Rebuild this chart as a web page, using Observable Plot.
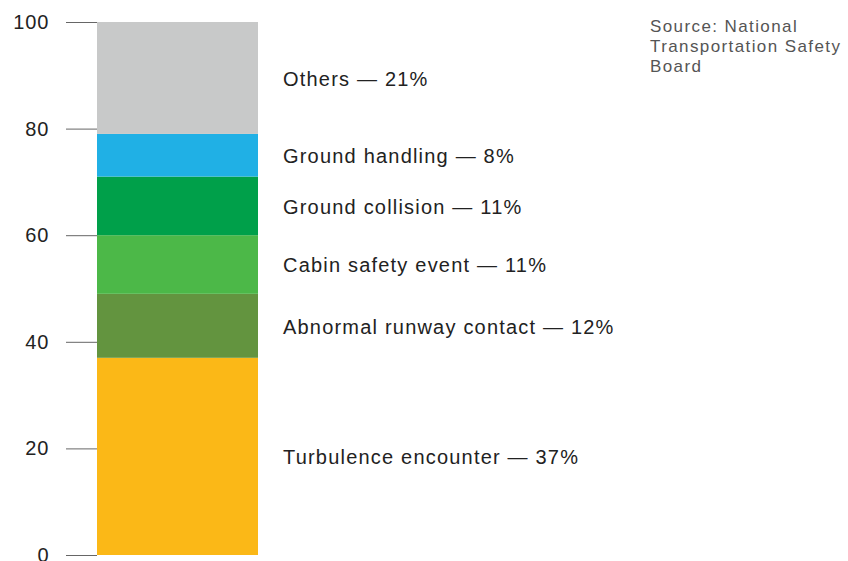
<!DOCTYPE html>
<html>
<head>
<meta charset="utf-8">
<script src="https://cdn.jsdelivr.net/npm/d3@7"></script>
<script src="https://cdn.jsdelivr.net/npm/@observablehq/plot@0.6"></script>
<style>
  html, body { margin: 0; padding: 0; background: #fff; }
  #wrap { position: relative; width: 848px; height: 561px; overflow: hidden; }
  #source { position: absolute; left: 650px; top: 17px; font-family: "Liberation Sans", Arial, sans-serif; font-size: 17px; line-height: 20px; color: #555; letter-spacing: 1.4px; }
  svg text { font-family: "Liberation Sans", Arial, sans-serif; }
  svg g[aria-label="text"] text { letter-spacing: 1.2px; }
  svg g[aria-label="y-axis tick label"] text { letter-spacing: 1px; }
</style>
</head>
<body>
<div id="wrap">
  <div id="chart"></div>
  <div id="source">Source: National<br>Transportation Safety<br>Board</div>
</div>
<script>
const categories = ["Turbulence encounter", "Abnormal runway contact", "Cabin safety event", "Ground collision", "Ground handling", "Others"];
const shares = [37, 12, 11, 11, 8, 21];
const colors = ["#FBB817", "#63943F", "#4CB848", "#00A04A", "#20B0E5", "#C8C9C9"];
const yTicks = [0, 20, 40, 60, 80, 100];

const data = categories.map((c, i) => ({group: "all", category: c, share: shares[i]}));

const chart = Plot.plot({
  width: 848,
  height: 561,
  marginTop: 22,
  marginBottom: 6,
  marginLeft: 97,
  marginRight: 590,
  style: {fontFamily: "Liberation Sans, Arial, sans-serif", background: "#fff"},
  x: {domain: ["all"], padding: 0, axis: null},
  y: {domain: [0, 100], label: null},
  color: {domain: categories, range: colors},
  marks: [
    Plot.barY(data, Plot.stackY({x: "group", y: "share", z: "category", fill: "category", order: categories})),
    Plot.axisY({ticks: yTicks, tickSize: 31, tickPadding: 17, fontSize: 20, stroke: "#666", color: "#222", label: null}),
    Plot.text(data, Plot.stackY({
      x: "group", y: "share", z: "category", order: categories,
      text: d => `${d.category} — ${d.share}%`,
      textAnchor: "start", dx: 105, dy: 1, fontSize: 20, fill: "#222"
    }))
  ]
});
document.getElementById("chart").appendChild(chart);
</script>
</body>
</html>
